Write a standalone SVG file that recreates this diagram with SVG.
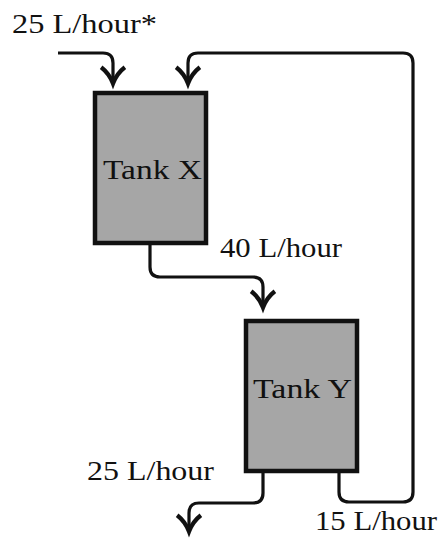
<svg xmlns="http://www.w3.org/2000/svg" width="448" height="543" viewBox="0 0 448 543">
<style>
.tank{fill:#a6a6a6;stroke:#111;stroke-width:4.5}
.pipe{fill:none;stroke:#111;stroke-width:3.2}
.lbl{font-family:"Liberation Serif","Times New Roman",serif;font-size:28px;fill:#111}
</style>
<defs>
<marker id="arr" markerUnits="userSpaceOnUse" markerWidth="30" markerHeight="30" viewBox="-16 -12 20 24" refX="-2" refY="0" orient="auto" overflow="visible">
<path d="M-13 -9.5 Q-8 -3 0 0 Q-8 3 -13 9.5" fill="none" stroke="#111" stroke-width="3.4" stroke-linejoin="miter"/>
</marker>
</defs>
<rect width="448" height="543" fill="#fff"/>
<g id="connectors">
<path class="pipe" marker-end="url(#arr)" d="M58 53 H103 Q113 53 113 63 V81"/>
<path class="pipe" marker-end="url(#arr)" d="M339 473 V492 Q339 502 349 502 H403 Q413 502 413 492 V63 Q413 53 403 53 H198 Q188 53 188 63 V81"/>
<path class="pipe" marker-end="url(#arr)" d="M150 245 V267 Q150 277 160 277 H253 Q263 277 263 287 V305"/>
<path class="pipe" marker-end="url(#arr)" d="M263 473 V493 Q263 503 253 503 H199 Q189 503 189 513 V529"/>
</g>
<g id="tankX">
<rect class="tank" x="95" y="93" width="111" height="150"/>
<text class="lbl" x="103" y="179" textLength="99" lengthAdjust="spacingAndGlyphs">Tank X</text>
</g>
<g id="tankY">
<rect class="tank" x="246" y="321" width="111" height="150"/>
<text class="lbl" x="253" y="398" textLength="99" lengthAdjust="spacingAndGlyphs">Tank Y</text>
</g>
<g id="labels">
<text class="lbl" x="12" y="33" textLength="145" lengthAdjust="spacingAndGlyphs">25 L/hour*</text>
<text class="lbl" x="220" y="257" textLength="122" lengthAdjust="spacingAndGlyphs">40 L/hour</text>
<text class="lbl" x="87" y="480" textLength="127" lengthAdjust="spacingAndGlyphs">25 L/hour</text>
<text class="lbl" x="315" y="530" textLength="122" lengthAdjust="spacingAndGlyphs">15 L/hour</text>
</g>
</svg>
